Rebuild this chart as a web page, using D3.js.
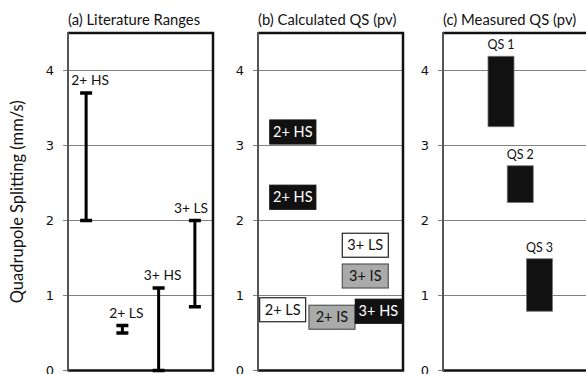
<!DOCTYPE html>
<html>
<head>
<meta charset="utf-8">
<script src="https://cdn.jsdelivr.net/npm/d3@7"></script>
<style>
  body { margin: 0; background: #fff; }
  svg { display: block; }
  .title, .lbl, .axisText { font-family: Lato, "Open Sans", sans-serif; fill: #111; }
  .tick text { font-family: "DejaVu Sans", Verdana, sans-serif; font-size: 13px; fill: #111; }
</style>
</head>
<body>
<div id="chart"></div>
<script>
// panel (a) literature ranges
const litLabels = ["2+ HS", "2+ LS", "3+ HS", "3+ LS"];
const litLow = [2.0, 0.5, 0.0, 0.85];
const litHigh = [3.7, 0.6, 1.1, 2.0];

// panel (b) calculated QS; slot = arbitrary horizontal placement (0..1)
const calcLabels = ["2+ HS", "2+ HS", "3+ LS", "3+ IS", "2+ LS", "2+ IS", "3+ HS"];
const calcValues = [3.18, 2.31, 1.67, 1.26, 0.81, 0.71, 0.79];
const calcSlot = [0.24, 0.24, 0.74, 0.74, 0.17, 0.51, 0.83];
const calcKind = ["HS", "HS", "LS", "IS", "LS", "IS", "HS"];

// panel (c) measured QS
const measLabels = ["QS 1", "QS 2", "QS 3"];
const measLow = [3.25, 2.24, 0.79];
const measHigh = [4.19, 2.73, 1.49];

const yTicks = [0, 1, 2, 3, 4];
const titles = ["(a) Literature Ranges", "(b) Calculated QS (pv)", "(c) Measured QS (pv)"];

const svgWidth = 586;
const svgHeight = 374;

const panelLeft = [68, 258, 443];
const panelW = 145;
const plotTop = 33;
const plotBottom = 370.5;

const svg = d3.select("#chart")
  .append("svg")
  .attr("width", svgWidth)
  .attr("height", svgHeight);

const y = d3.scaleLinear().domain([0, 4.5]).range([plotBottom, plotTop]);

// y axis label
svg.append("text")
  .attr("class", "axisText")
  .attr("transform", `translate(23, ${(plotTop + plotBottom) / 2}) rotate(-90)`)
  .attr("text-anchor", "middle")
  .style("font-size", "16.5px")
  .text("Quadrupole Splitting (mm/s)");

// frames, grid, ticks
const panels = panelLeft.map((x0, i) => {
  const g = svg.append("g");

  g.append("text")
    .attr("class", "title")
    .attr("x", x0)
    .attr("y", 25)
    .style("font-size", "14.8px")
    .text(titles[i]);

  g.selectAll("line.grid")
    .data(yTicks)
    .enter()
    .append("line")
    .attr("class", "grid")
    .attr("x1", x0 - 5)
    .attr("x2", x0 + panelW)
    .attr("y1", d => y(d))
    .attr("y2", d => y(d))
    .attr("stroke", "#808080")
    .attr("stroke-width", 1);

  const axis = g.append("g")
    .attr("transform", `translate(${x0}, 0)`)
    .call(d3.axisLeft(y).tickValues(yTicks).tickSize(0).tickPadding(14).tickFormat(d3.format("d")));
  axis.select(".domain").remove();

  // frame: grey left, black top/right/bottom
  g.append("path")
    .attr("d", `M${x0},${plotTop} H${x0 + panelW} V${plotBottom} H${x0}`)
    .attr("fill", "none")
    .attr("stroke", "#111")
    .attr("stroke-width", 2.5);
  g.append("line")
    .attr("x1", x0).attr("x2", x0)
    .attr("y1", plotTop - 1).attr("y2", plotBottom + 1)
    .attr("stroke", "#555")
    .attr("stroke-width", 2);

  return g;
});

// (a) error bars
const xa = d3.scaleBand().domain(litLabels).range([panelLeft[0], panelLeft[0] + panelW]);
const capW = 12;
const ga = panels[0].selectAll("g.bar")
  .data(litLabels.map((l, i) => ({ label: l, lo: litLow[i], hi: litHigh[i] })))
  .enter()
  .append("g");

ga.append("line")
  .attr("x1", d => xa(d.label) + xa.bandwidth() / 2)
  .attr("x2", d => xa(d.label) + xa.bandwidth() / 2)
  .attr("y1", d => y(d.lo))
  .attr("y2", d => y(d.hi))
  .attr("stroke", "#000")
  .attr("stroke-width", 3);

["lo", "hi"].forEach(k => {
  ga.append("line")
    .attr("x1", d => xa(d.label) + xa.bandwidth() / 2 - capW / 2)
    .attr("x2", d => xa(d.label) + xa.bandwidth() / 2 + capW / 2)
    .attr("y1", d => y(d[k]))
    .attr("y2", d => y(d[k]))
    .attr("stroke", "#000")
    .attr("stroke-width", 3.5);
});

// labels sit a bit right of the bar, but stay inside the frame
const aRight = panelLeft[0] + panelW - 5;
ga.append("text")
  .attr("class", "lbl")
  .attr("y", d => y(d.hi) - 8)
  .attr("text-anchor", "middle")
  .style("font-size", "13.8px")
  .text(d => d.label)
  .attr("x", function(d) {
    const half = this.getComputedTextLength() / 2;
    return Math.min(xa(d.label) + xa.bandwidth() / 2 + 4, aRight - half);
  });

// (b) labelled boxes
const xb = d3.scaleLinear().domain([0, 1]).range([panelLeft[1], panelLeft[1] + panelW]);
const boxW = 46, boxH = 24;
const fills = { HS: "#111", LS: "#fff", IS: "#aaa" };
const strokes = { HS: "#111", LS: "#222", IS: "#555" };
const gb = panels[1].selectAll("g.box")
  .data(calcLabels.map((l, i) => ({ label: l, v: calcValues[i], s: calcSlot[i], k: calcKind[i] })))
  .enter()
  .append("g");

gb.append("rect")
  .attr("x", d => xb(d.s) - boxW / 2)
  .attr("y", d => y(d.v) - boxH / 2)
  .attr("width", boxW)
  .attr("height", boxH)
  .attr("fill", d => fills[d.k])
  .attr("stroke", d => strokes[d.k])
  .attr("stroke-width", 1.2);

gb.append("text")
  .attr("class", "lbl")
  .attr("x", d => xb(d.s))
  .attr("y", d => y(d.v) + 5)
  .attr("text-anchor", "middle")
  .style("font-size", "14.5px")
  .style("fill", d => d.k === "HS" ? "#fff" : "#111")
  .text(d => d.label);

// (c) measured ranges
const xc = d3.scalePoint().domain(measLabels).range([panelLeft[2] + 58, panelLeft[2] + 96.5]);
const barW = 26;
const gc = panels[2].selectAll("g.meas")
  .data(measLabels.map((l, i) => ({ label: l, lo: measLow[i], hi: measHigh[i] })))
  .enter()
  .append("g");

gc.append("rect")
  .attr("x", d => xc(d.label) - barW / 2)
  .attr("y", d => y(d.hi))
  .attr("width", barW)
  .attr("height", d => y(d.lo) - y(d.hi))
  .attr("fill", "#111")
  .attr("stroke", "#777")
  .attr("stroke-width", 0.8);

gc.append("text")
  .attr("class", "lbl")
  .attr("x", d => xc(d.label))
  .attr("y", d => y(d.hi) - 7)
  .attr("text-anchor", "middle")
  .style("font-size", "12.5px")
  .text(d => d.label);
</script>
</body>
</html>
